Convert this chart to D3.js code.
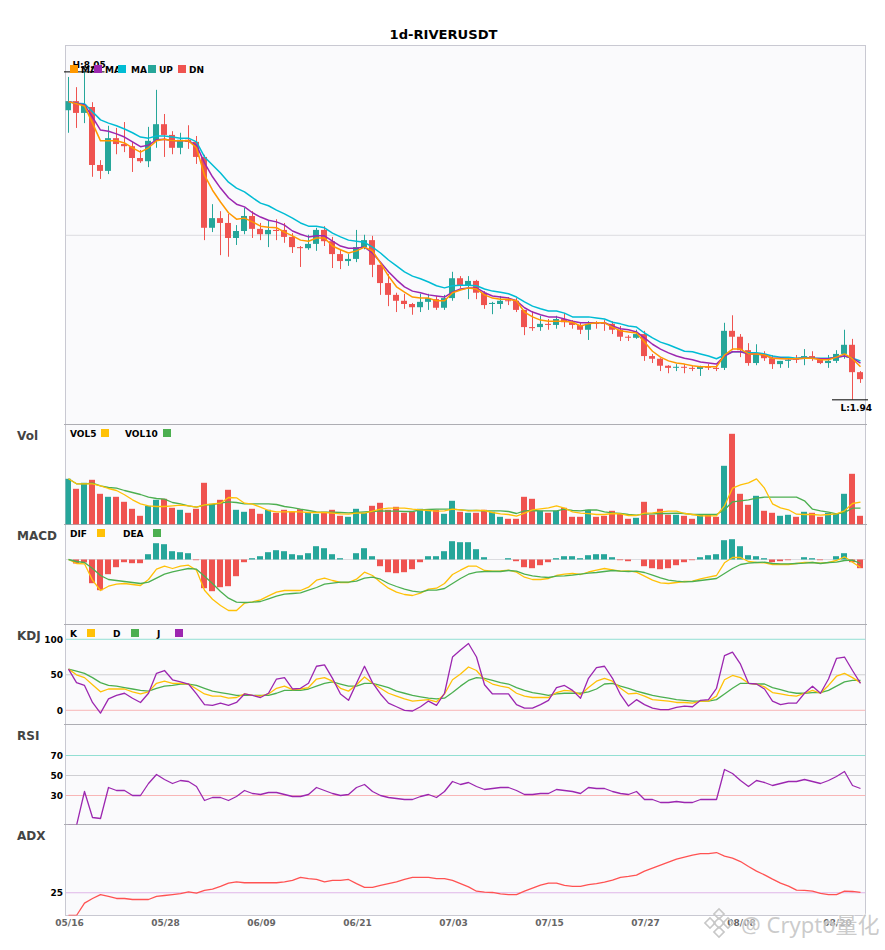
<!DOCTYPE html>
<html>
<head>
<meta charset="utf-8">
<script src="https://cdn.jsdelivr.net/npm/d3@7"></script>
<style>
  body { margin: 0; background: #fff; }
  text { font-family: "DejaVu Sans", sans-serif; font-weight: bold; }
</style>
</head>
<body>
<svg id="charts" width="885" height="950"></svg>
<script>
const dates = [
    "05/16","05/17","05/18","05/19","05/20","05/21","05/22","05/23","05/24","05/25",
    "05/26","05/27","05/28","05/29","05/30","05/31","06/01","06/02","06/03","06/04",
    "06/05","06/06","06/07","06/08","06/09","06/10","06/11","06/12","06/13","06/14",
    "06/15","06/16","06/17","06/18","06/19","06/20","06/21","06/22","06/23","06/24",
    "06/25","06/26","06/27","06/28","06/29","06/30","07/01","07/02","07/03","07/04",
    "07/05","07/06","07/07","07/08","07/09","07/10","07/11","07/12","07/13","07/14",
    "07/15","07/16","07/17","07/18","07/19","07/20","07/21","07/22","07/23","07/24",
    "07/25","07/26","07/27","07/28","07/29","07/30","07/31","08/01","08/02","08/03",
    "08/04","08/05","08/06","08/07","08/08","08/09","08/10","08/11","08/12","08/13",
    "08/14","08/15","08/16","08/17","08/18","08/19","08/20","08/21","08/22","08/23"];
const dateTicks = ["05/16","05/28","06/09","06/21","07/03","07/15","07/27","08/08","08/20"];

const open = [
    7.33,7.50,7.28,7.39,6.31,6.20,6.81,6.70,6.66,6.44,
    6.38,6.76,7.07,6.87,6.63,6.78,6.74,6.46,5.14,5.32,
    5.23,4.95,5.08,5.36,5.12,5.02,5.10,5.10,4.97,4.78,
    4.76,4.84,5.10,4.89,4.65,4.52,4.56,4.78,4.91,4.45,
    4.11,3.89,3.78,3.72,3.66,3.76,3.81,3.65,3.83,4.20,
    4.06,4.15,3.93,3.72,3.72,3.79,3.78,3.61,3.29,3.29,
    3.35,3.33,3.44,3.38,3.33,3.24,3.37,3.37,3.35,3.24,
    3.11,3.09,3.16,2.75,2.70,2.57,2.54,2.55,2.53,2.51,
    2.55,2.53,2.53,3.22,3.11,2.86,2.62,2.79,2.71,2.60,
    2.66,2.70,2.70,2.75,2.70,2.62,2.66,2.79,2.96,2.45];
const high = [
    7.95,7.76,8.05,7.48,6.40,7.04,7.00,7.11,6.74,6.59,
    7.02,7.71,7.26,6.94,6.91,7.05,6.85,6.50,5.58,5.45,
    5.40,5.19,5.51,5.45,5.23,5.27,5.30,5.23,5.04,4.80,
    5.01,5.14,5.17,4.97,4.74,4.65,5.10,5.01,4.99,4.45,
    4.28,3.93,3.91,3.74,3.91,3.91,3.87,3.89,4.32,4.24,
    4.24,4.17,3.96,3.76,3.87,3.85,3.83,3.61,3.59,3.50,
    3.44,3.50,3.55,3.42,3.37,3.40,3.40,3.42,3.40,3.31,
    3.14,3.24,3.22,2.79,2.71,2.58,2.60,2.60,2.57,2.57,
    2.60,2.58,3.37,3.51,3.16,2.99,2.97,2.84,2.77,2.66,
    2.71,2.77,2.88,2.84,2.71,2.77,2.86,3.24,3.07,2.47];
const low = [
    6.91,7.00,7.09,6.09,6.05,6.14,6.51,6.55,6.18,6.35,
    6.27,6.63,6.46,6.51,6.51,6.61,6.33,4.91,5.06,4.63,
    4.60,4.82,5.02,4.95,4.91,4.78,4.91,4.86,4.67,4.41,
    4.73,4.71,4.80,4.39,4.37,4.43,4.50,4.74,4.22,3.89,
    3.68,3.57,3.63,3.52,3.57,3.61,3.61,3.61,3.78,4.02,
    3.81,3.81,3.63,3.53,3.63,3.70,3.57,3.14,3.22,3.22,
    3.24,3.26,3.29,3.26,3.16,3.05,3.26,3.22,3.16,3.03,
    3.03,3.07,2.66,2.62,2.47,2.43,2.47,2.43,2.47,2.38,
    2.49,2.47,2.49,2.86,2.73,2.57,2.58,2.66,2.51,2.53,
    2.53,2.62,2.58,2.66,2.60,2.53,2.62,2.70,1.94,2.25];
const close = [
    7.50,7.28,7.43,6.31,6.20,6.81,6.70,6.66,6.44,6.38,
    6.76,7.07,6.87,6.63,6.78,6.74,6.46,5.14,5.32,5.23,
    4.95,5.08,5.36,5.12,5.02,5.10,5.08,4.97,4.78,4.76,
    4.84,5.10,4.89,4.65,4.52,4.56,4.78,4.91,4.45,4.11,
    3.89,3.78,3.72,3.66,3.76,3.83,3.65,3.83,4.20,4.06,
    4.15,3.93,3.70,3.74,3.78,3.78,3.61,3.29,3.27,3.35,
    3.33,3.44,3.38,3.33,3.24,3.35,3.35,3.35,3.24,3.11,
    3.10,3.16,2.75,2.70,2.57,2.53,2.55,2.54,2.52,2.55,
    2.54,2.51,3.22,3.11,2.86,2.62,2.79,2.71,2.60,2.66,
    2.68,2.69,2.75,2.70,2.62,2.66,2.79,2.96,2.45,2.32];

const maFast = [
    7.49,7.45,7.41,7.09,6.76,6.76,6.76,6.72,6.63,6.55,
    6.63,6.76,6.79,6.76,6.76,6.76,6.63,6.12,5.84,5.62,
    5.42,5.30,5.32,5.25,5.17,5.15,5.14,5.06,4.99,4.91,
    4.89,4.95,4.95,4.80,4.73,4.67,4.71,4.78,4.71,4.48,
    4.24,4.04,3.94,3.85,3.83,3.83,3.78,3.78,3.93,3.98,
    4.02,4.00,3.89,3.83,3.81,3.81,3.78,3.57,3.48,3.42,
    3.40,3.40,3.40,3.38,3.31,3.35,3.37,3.37,3.29,3.22,
    3.20,3.18,3.01,2.84,2.73,2.66,2.62,2.60,2.57,2.55,
    2.55,2.55,2.77,2.88,2.88,2.79,2.79,2.77,2.71,2.70,
    2.70,2.70,2.71,2.71,2.68,2.68,2.73,2.79,2.70,2.55];
const maMid = [
    7.49,7.46,7.43,7.20,6.96,6.94,6.89,6.83,6.74,6.65,
    6.68,6.78,6.79,6.76,6.76,6.76,6.68,6.35,6.09,5.88,
    5.70,5.58,5.53,5.42,5.34,5.28,5.25,5.19,5.08,5.02,
    4.97,4.99,4.99,4.89,4.80,4.76,4.76,4.78,4.67,4.50,
    4.32,4.17,4.04,3.96,3.93,3.89,3.87,3.85,3.94,4.00,
    4.02,4.02,3.93,3.87,3.85,3.83,3.78,3.65,3.57,3.52,
    3.48,3.48,3.44,3.40,3.37,3.37,3.37,3.37,3.31,3.26,
    3.24,3.20,3.09,2.97,2.88,2.81,2.75,2.71,2.68,2.64,
    2.62,2.60,2.75,2.83,2.83,2.79,2.79,2.77,2.71,2.71,
    2.70,2.70,2.71,2.71,2.70,2.70,2.73,2.75,2.71,2.62];
const maSlow = [
    7.49,7.46,7.45,7.30,7.15,7.09,7.04,6.98,6.91,6.83,
    6.81,6.85,6.85,6.83,6.81,6.81,6.74,6.46,6.31,6.16,
    5.99,5.88,5.81,5.70,5.60,5.55,5.47,5.40,5.32,5.23,
    5.17,5.17,5.14,5.04,4.97,4.91,4.89,4.87,4.78,4.67,
    4.54,4.43,4.32,4.24,4.19,4.13,4.06,4.02,4.06,4.07,
    4.07,4.06,4.00,3.96,3.94,3.91,3.85,3.76,3.68,3.63,
    3.59,3.59,3.55,3.48,3.48,3.48,3.46,3.44,3.38,3.35,
    3.31,3.29,3.18,3.09,3.01,2.96,2.90,2.84,2.83,2.79,
    2.75,2.70,2.77,2.83,2.83,2.81,2.81,2.79,2.75,2.73,
    2.73,2.71,2.73,2.71,2.71,2.71,2.73,2.75,2.71,2.66];

const volume = [
    45.7,35.7,41.7,44.7,30.7,27.7,27.7,22.7,15.7,8.7,
    18.7,24.7,25.7,16.7,14.7,11.7,15.7,41.7,20.7,24.7,
    34.7,14.7,12.7,15.7,10.7,14.7,11.7,14.7,12.7,15.3,
    11.7,10.7,12.7,14.7,8.7,7.7,15.7,11.7,18.7,21.7,
    14.7,17.7,11.7,12.7,15.7,13.7,14.7,10.7,23.7,12.7,
    11.7,11.7,14.7,12.7,7.7,5.7,5.7,27.7,25.7,13.7,
    11.7,13.7,16.7,7.7,7.7,14.7,7.7,8.7,13.7,10.7,
    5.7,6.7,22.7,9.7,15.7,9.7,9.7,8.7,5.7,9.7,
    9.7,7.7,58.7,90.7,30.7,19.7,28.7,13.7,11.7,8.7,
    9.7,7.7,12.7,11.7,7.7,11.7,10.7,30.7,50.7,8.7];
const vol5 = [
    45.7,40.7,40.7,40.7,38.7,36,34,29.7,24.7,20.7,
    18.7,18,18,18.7,19.3,18.7,17.3,19.7,20.7,21.3,
    27,26.7,21.3,20.3,17.3,14,12.7,12.7,12.8,12.7,
    12,12,12,11.3,10.7,10.3,11.3,11.3,13.3,15.3,
    16.3,16.3,16.3,15.3,14.7,14,13.3,13.7,15.3,14.7,
    13.7,14,14,12,10.7,10,8.3,11.3,14.7,15.7,
    16.7,18.7,16.3,12.7,11.3,10.9,10,10,11,10.7,
    9,9,11.3,11.7,12.7,13.3,13.3,11,10,8.7,
    8.7,8.7,18.7,36.3,39.7,41.7,45.7,36.3,20.7,16.7,
    14.7,10.3,10,10,9.3,10,10.7,13.7,21,22.3];
const vol10 = [
    45.7,40.7,40.7,41.3,38.7,37,36.3,34,32,30,
    27.3,26,25.3,22,20.7,18.7,17.3,19.3,20,21.3,
    22.7,22,20.7,20.7,20.7,20.7,20,18,16.8,15.3,
    14,12.7,12.3,12.3,12,11.7,12,12.7,13,13.7,
    13.3,13.3,13,13,14.7,15,15.3,15.3,15.3,14.7,
    14,14,13.7,13.7,13.7,13,11,13.7,14,13.7,
    13.7,13.7,15.3,14,13.7,14.5,14.7,12.7,11.7,11,
    10,9.3,10.3,10.7,11,11,11.3,11,10,10,
    10,10,14.7,22.7,23.7,24.7,26.3,27.3,27.3,27.3,
    27.3,27.3,23.7,15.3,13.7,12.3,10.7,12,16.3,16.3];

const macdHist = [
    0,-0.04,-0.03,-0.237,-0.307,-0.147,-0.077,-0.027,-0.037,-0.037,
    0.053,0.163,0.153,0.083,0.073,0.063,-0.007,-0.287,-0.317,-0.277,
    -0.267,-0.167,-0.027,0.013,0.033,0.073,0.093,0.083,0.053,0.043,
    0.063,0.133,0.113,0.053,0.013,0,0.063,0.113,0.033,-0.067,
    -0.127,-0.137,-0.127,-0.097,-0.027,0.033,0.033,0.083,0.183,0.173,
    0.173,0.103,0.023,0,0,0.013,-0.017,-0.077,-0.087,-0.057,
    -0.027,0.013,0.033,0.033,0.013,0.043,0.053,0.053,0.023,-0.007,
    -0.017,0,-0.067,-0.087,-0.097,-0.087,-0.057,-0.027,-0.007,0.023,
    0.043,0.053,0.193,0.203,0.133,0.043,0.033,0.013,-0.027,-0.017,
    -0.007,0,0.023,0.013,-0.007,0,0.033,0.063,-0.027,-0.087];
const dif = [
    0,-0.04,-0.043,-0.207,-0.31,-0.267,-0.247,-0.24,-0.25,-0.26,
    -0.2,-0.097,-0.067,-0.09,-0.067,-0.057,-0.107,-0.307,-0.397,-0.46,
    -0.51,-0.51,-0.437,-0.423,-0.403,-0.363,-0.327,-0.31,-0.31,-0.31,
    -0.277,-0.207,-0.187,-0.21,-0.23,-0.23,-0.197,-0.127,-0.16,-0.227,
    -0.287,-0.327,-0.35,-0.36,-0.337,-0.297,-0.287,-0.24,-0.15,-0.107,
    -0.067,-0.067,-0.11,-0.117,-0.113,-0.107,-0.127,-0.177,-0.2,-0.2,
    -0.19,-0.16,-0.147,-0.14,-0.15,-0.125,-0.107,-0.09,-0.103,-0.117,
    -0.113,-0.127,-0.167,-0.207,-0.233,-0.24,-0.23,-0.22,-0.217,-0.193,
    -0.177,-0.16,-0.033,0.02,0.02,-0.02,-0.03,-0.033,-0.05,-0.05,
    -0.05,-0.04,-0.03,-0.03,-0.037,-0.03,-0.01,0.027,-0.027,-0.08];
const dea = [
    0,-0.02,-0.03,-0.09,-0.16,-0.2,-0.21,-0.22,-0.23,-0.24,
    -0.227,-0.187,-0.147,-0.123,-0.107,-0.09,-0.097,-0.167,-0.24,-0.32,
    -0.387,-0.427,-0.43,-0.427,-0.42,-0.393,-0.367,-0.347,-0.34,-0.333,
    -0.307,-0.28,-0.247,-0.237,-0.227,-0.227,-0.217,-0.187,-0.177,-0.197,
    -0.24,-0.27,-0.297,-0.317,-0.327,-0.307,-0.307,-0.29,-0.24,-0.19,
    -0.147,-0.127,-0.12,-0.12,-0.12,-0.11,-0.117,-0.147,-0.163,-0.173,
    -0.18,-0.167,-0.163,-0.157,-0.147,-0.137,-0.13,-0.12,-0.11,-0.117,
    -0.12,-0.117,-0.13,-0.157,-0.183,-0.207,-0.217,-0.223,-0.22,-0.21,
    -0.2,-0.19,-0.14,-0.09,-0.05,-0.037,-0.03,-0.027,-0.04,-0.043,
    -0.043,-0.04,-0.037,-0.03,-0.04,-0.03,-0.027,-0.01,-0.007,-0.04];

const kLine = [
    58,50,46,36,26,30,30,30,26,23,
    26,38,41,38,38,37,30,23,20,20,
    17,18,23,21,20,23,31,34,29,30,
    32,44,46,41,31,27,36,47,38,31,
    24,20,16,13,14,15,12,23,43,51,
    61,56,43,37,34,32,24,20,18,18,
    18,25,28,27,22,32,41,45,41,31,
    23,24,20,15,14,13,11,11,10,13,
    13,20,43,49,46,38,37,33,25,23,
    21,20,24,28,24,35,48,52,46,39];
const dLine = [
    58,55,52,46,39,35,34,32,30,28,
    27,31,34,35,37,37,35,31,27,25,
    23,21,21,21,21,21,24,28,28,28,
    30,34,38,40,37,34,34,38,38,35,
    32,27,24,21,19,17,16,17,25,34,
    42,46,45,42,39,37,32,28,25,23,
    21,23,24,24,24,26,30,37,38,34,
    31,27,24,21,19,17,15,14,13,13,
    13,15,23,31,38,38,37,37,32,29,
    26,24,24,25,25,28,34,40,42,42];
const jLine = [
    58,39,35,11,-4,16,21,24,17,11,
    24,52,56,43,40,37,23,8,7,10,
    7,11,23,21,18,24,44,46,30,31,
    38,62,64,45,23,14,38,62,39,23,
    10,5,0,-1,5,13,7,24,75,85,
    94,75,36,23,23,23,8,3,3,8,
    14,32,35,28,17,45,60,62,45,22,
    6,15,8,3,1,1,4,6,5,14,
    15,31,77,82,65,38,37,30,13,8,
    10,10,24,34,24,44,73,75,56,38];

const rsi = [
    0,0,34,8,7,38,35,35,30,30,
    42,51,46,42,45,44,39,25,28,28,
    25,29,35,32,31,33,33,31,29,29,
    31,38,35,32,30,31,38,41,34,30,
    28,27,26,26,29,31,28,34,44,41,
    43,39,36,37,38,38,35,31,31,32,
    32,36,35,34,32,38,37,37,34,32,
    31,34,26,26,23,23,24,23,23,26,
    26,26,56,52,45,39,45,43,40,42,
    44,44,46,44,42,45,49,54,40,37];
const adx = [
    0,0,13.6,18.7,23,21,18.7,18.7,17.6,17.6,
    17.6,21,22,23,24,26,24.5,27.5,29,32,
    35.5,37,36,36,36,36,36,37,38.5,42,
    40.6,39.6,37,38.5,38.5,39.6,35,31,31,33,
    35,37,39.6,42,42,42,40.6,40.6,38.5,35,
    31.5,26.7,25.6,25.3,23.8,23,23,26.7,30,33.3,
    35.5,35.5,33,31.9,31.9,34,35,36.6,38.8,41.8,
    42.9,44.3,48.7,52,55.3,58.6,61.9,64.1,66.3,68.1,
    68.1,69.2,65.2,63,59.3,53.8,48.7,44.7,39.9,35.5,
    32.2,27.8,27.5,26.7,24.2,23,23,26.7,26.4,25.3];

const UP = "#26a69a", DN = "#ef5350";
const ORANGE = "#ff9800", PURPLE = "#9c27b0", CYAN = "#00bcd4", YELLOW = "#ffc107", GREEN = "#4caf50";

let svg = d3.select("#charts");

/* shared x scale, one band per day */
let xScale = d3.scaleBand()
    .domain(dates)
    .range([64, 864])
    .paddingInner(0.25)
    .paddingOuter(0.125);
let xMid = d => xScale(d) + xScale.bandwidth() / 2 + 0.5;

/* y scales for every pane */
let yPrice = d3.scaleLinear().domain([1.475, 8.536]).range([424.5, 45.5]);
let yVol = d3.scaleLinear().domain([0, 100]).range([524.5, 424.5]);
let yMacd = d3.scaleLinear().domain([-0.65, 0.35]).range([624.5, 524.5]);
let yKdj = d3.scaleLinear().domain([-20, 120.8]).range([724.5, 624.5]);
let yRsi = d3.scaleLinear().domain([1, 101]).range([824.5, 724.5]);
let yAdx = d3.scaleLinear().domain([0, 100]).range([915.5, 824.5]);

function drawFrame() {
    svg.append("rect")
        .attr("x", 65.5).attr("y", 45.5)
        .attr("width", 800).attr("height", 870)
        .attr("fill", "#fafafc")
        .attr("stroke", "#c9c9d2");

    svg.append("text")
        .attr("x", 443.5).attr("y", 39)
        .attr("text-anchor", "middle")
        .style("font-size", "13.1px")
        .text("1d-RIVERUSDT");

    /* pane separators with their small stubs */
    [yVol, yMacd, yKdj, yRsi, yAdx].forEach(s => {
        svg.append("line")
            .attr("x1", 64).attr("x2", 867)
            .attr("y1", s.range()[1]).attr("y2", s.range()[1])
            .attr("stroke", "#adadb3");
    });

    let names = [["Vol", 439.5], ["MACD", 539.5], ["KDJ", 639.5], ["RSI", 739.5], ["ADX", 839.5]];
    svg.selectAll(".pane-name")
        .data(names)
        .join("text")
        .attr("class", "pane-name")
        .attr("x", 17).attr("y", d => d[1])
        .attr("fill", "#444")
        .style("font-size", "12px")
        .text(d => d[0]);
}

function paneGroup(name, yScale) {
    let y0 = yScale.range()[1], y1 = yScale.range()[0];
    svg.append("clipPath").attr("id", "clip-" + name)
        .append("rect")
        .attr("x", 65.5).attr("y", y0)
        .attr("width", 800).attr("height", y1 - y0);
    return svg.append("g").attr("id", name).attr("clip-path", "url(#clip-" + name + ")");
}

function gridLine(g, yScale, value, color) {
    g.append("line")
        .attr("x1", 65.5).attr("x2", 865.5)
        .attr("y1", yScale(value)).attr("y2", yScale(value))
        .attr("stroke", color);
}

function drawLine(g, values, yScale, color, width) {
    let line = d3.line()
        .x((d, i) => xMid(dates[i]))
        .y(d => yScale(d));
    g.append("path")
        .attr("d", line(values))
        .attr("fill", "none")
        .attr("stroke", color)
        .attr("stroke-width", width || 1.3)
        .attr("stroke-linejoin", "round");
}

function drawLegend(y, items) {
    items.forEach(it => {
        if (it.text != null) {
            svg.append("text")
                .attr("x", it.x).attr("y", y + 8.3)
                .style("font-size", "9px")
                .text(it.text);
        }
    });
    items.forEach(it => {
        if (it.color != null) {
            svg.append("rect")
                .attr("x", it.x).attr("y", y)
                .attr("width", 8).attr("height", 8)
                .attr("fill", it.color);
        }
    });
}

function leftAxis(yScale, ticks) {
    let g = svg.append("g")
        .attr("transform", "translate(65,0)")
        .call(d3.axisLeft(yScale).tickValues(ticks).tickSize(0).tickPadding(2).tickFormat(d3.format("d")));
    g.select(".domain").remove();
    g.selectAll("text")
        .attr("fill", "#000")
        .style("font-family", '"DejaVu Sans", sans-serif')
        .style("font-size", "9px");
}

function drawCandles() {
    let g = paneGroup("candles", yPrice);
    gridLine(g, yPrice, 5, "#dcdce0");

    g.selectAll(".wick")
        .data(dates)
        .join("line")
        .attr("class", "wick")
        .attr("x1", d => xMid(d)).attr("x2", d => xMid(d))
        .attr("y1", (d, i) => yPrice(high[i]))
        .attr("y2", (d, i) => yPrice(low[i]))
        .attr("stroke", (d, i) => close[i] >= open[i] ? UP : DN);

    g.selectAll(".body")
        .data(dates)
        .join("rect")
        .attr("class", "body")
        .attr("x", d => xScale(d))
        .attr("width", xScale.bandwidth())
        .attr("y", (d, i) => yPrice(Math.max(open[i], close[i])))
        .attr("height", (d, i) => Math.max(1, Math.abs(yPrice(open[i]) - yPrice(close[i]))))
        .attr("fill", (d, i) => close[i] >= open[i] ? UP : DN);

    drawLine(g, maSlow, yPrice, CYAN, 1.5);
    drawLine(g, maMid, yPrice, PURPLE, 1.5);
    drawLine(g, maFast, yPrice, ORANGE, 1.5);

    /* high and low markers */
    let hi = high.indexOf(d3.max(high)), lo = low.indexOf(d3.min(low));
    [[hi, high[hi], "H:", -3.7], [lo, low[lo], "L:", 11]].forEach(m => {
        let x = xMid(dates[m[0]]), y = yPrice(m[1]);
        svg.append("line")
            .attr("x1", x - 20.5).attr("x2", Math.min(x + 20, 868))
            .attr("y1", y + 0.3).attr("y2", y + 0.3)
            .attr("stroke", "#000");
        svg.append("text")
            .attr("x", x - 12).attr("y", y + m[3])
            .style("font-size", "9px")
            .text(m[2] + m[1].toFixed(2));
    });

    drawLegend(65, [
        {x: 70, color: ORANGE}, {x: 81, text: "MA"},
        {x: 94, color: PURPLE}, {x: 105, text: "MA"},
        {x: 118, color: CYAN}, {x: 131, text: "MA"},
        {x: 148, color: UP}, {x: 159, text: "UP"},
        {x: 178, color: DN}, {x: 189, text: "DN"}
    ]);
}

function drawVolume() {
    let g = paneGroup("volume", yVol);
    g.selectAll("rect")
        .data(dates)
        .join("rect")
        .attr("x", d => xScale(d))
        .attr("width", xScale.bandwidth())
        .attr("y", (d, i) => yVol(volume[i]))
        .attr("height", (d, i) => yVol(0) - yVol(volume[i]))
        .attr("fill", (d, i) => close[i] >= open[i] ? UP : DN);
    drawLine(g, vol10, yVol, GREEN);
    drawLine(g, vol5, yVol, YELLOW);
    drawLegend(429, [
        {x: 70, text: "VOL5"}, {x: 101, color: YELLOW},
        {x: 125, text: "VOL10"}, {x: 163, color: GREEN}
    ]);
}

function drawMacd() {
    let g = paneGroup("macd", yMacd);
    gridLine(g, yMacd, 0, "#dcdce0");
    g.selectAll("rect.hist")
        .data(dates)
        .join("rect")
        .attr("class", "hist")
        .attr("x", d => xScale(d))
        .attr("width", xScale.bandwidth())
        .attr("y", (d, i) => yMacd(Math.max(0, macdHist[i])))
        .attr("height", (d, i) => Math.abs(yMacd(macdHist[i]) - yMacd(0)))
        .attr("fill", (d, i) => macdHist[i] >= 0 ? UP : DN);
    drawLine(g, dif, yMacd, YELLOW);
    drawLine(g, dea, yMacd, GREEN);
    drawLegend(529, [
        {x: 70, text: "DIF"}, {x: 97, color: YELLOW},
        {x: 123, text: "DEA"}, {x: 153, color: GREEN}
    ]);
}

function drawKdj() {
    let g = paneGroup("kdj", yKdj);
    gridLine(g, yKdj, 100, "#92dfd3");
    gridLine(g, yKdj, 50, "#cfcfd3");
    gridLine(g, yKdj, 0, "#f8b6b6");
    drawLine(g, dLine, yKdj, GREEN);
    drawLine(g, kLine, yKdj, YELLOW);
    drawLine(g, jLine, yKdj, PURPLE);
    leftAxis(yKdj, [0, 50, 100]);
    drawLegend(629, [
        {x: 70, text: "K"}, {x: 87, color: YELLOW},
        {x: 113, text: "D"}, {x: 131, color: GREEN},
        {x: 157, text: "J"}, {x: 175, color: PURPLE}
    ]);
}

function drawRsi() {
    let g = paneGroup("rsi", yRsi);
    gridLine(g, yRsi, 70, "#92dfd3");
    gridLine(g, yRsi, 50, "#cfcfd3");
    gridLine(g, yRsi, 30, "#f8b6b6");
    drawLine(g, rsi, yRsi, PURPLE);
    leftAxis(yRsi, [30, 50, 70]);
}

function drawAdx() {
    let g = paneGroup("adx", yAdx);
    gridLine(g, yAdx, 25, "#dfb6e8");
    drawLine(g, adx, yAdx, "#ff5252");
    leftAxis(yAdx, [25]);

    let axis = svg.append("g")
        .attr("transform", "translate(1.5,915.5)")
        .call(d3.axisBottom(xScale).tickValues(dateTicks).tickSize(0).tickPadding(4.5));
    axis.select(".domain").remove();
    axis.selectAll("text")
        .attr("fill", "#666")
        .style("font-family", '"DejaVu Sans", sans-serif')
        .style("font-size", "9px");
}

function drawWatermark() {
    let mark = svg.append("g")
        .attr("transform", "translate(719,923)")
        .attr("fill", "none")
        .attr("stroke", "#c8c8c8")
        .attr("stroke-width", 1.6);
    [[0, -9], [-9, 0], [9, 0], [0, 9], [0, 0]].forEach(p => {
        mark.append("rect")
            .attr("x", -3.6).attr("y", -3.6)
            .attr("width", 7.2).attr("height", 7.2)
            .attr("transform", "translate(" + p[0] + "," + p[1] + ") rotate(45)");
    });
    svg.append("text")
        .attr("x", 741).attr("y", 932.5)
        .attr("fill", "#c2c2c2")
        .attr("fill-opacity", 0.85)
        .attr("stroke", "#fff")
        .attr("stroke-opacity", 0.5)
        .attr("stroke-width", 2)
        .attr("paint-order", "stroke")
        .style("font-family", '"Noto Sans", "Noto Sans CJK SC", sans-serif')
        .style("font-weight", "normal")
        .style("font-size", "22px")
        .text("@ Crypto量化");
}

drawFrame();
drawCandles();
drawVolume();
drawMacd();
drawKdj();
drawRsi();
drawAdx();
drawWatermark();
</script>
</body>
</html>
